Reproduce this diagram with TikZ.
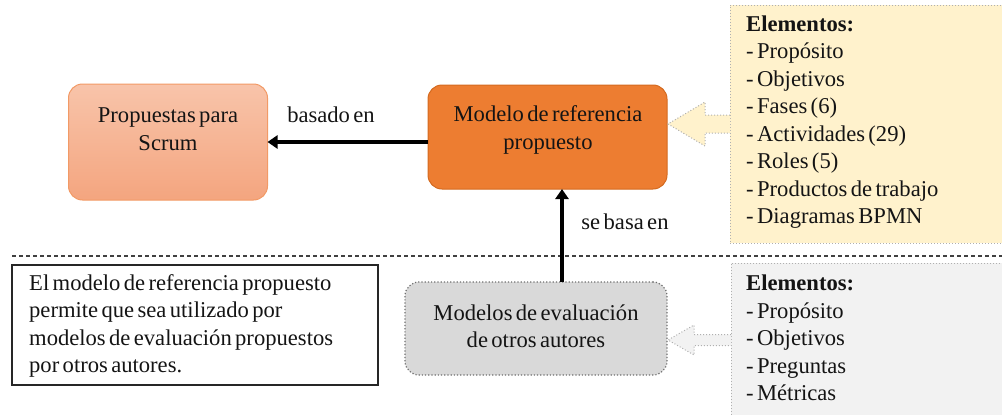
\documentclass[tikz,border=0pt]{standalone}
\usepackage{fontspec}
\setmainfont[WordSpace=0.6]{Liberation Serif}
\usetikzlibrary{arrows.meta}
\definecolor{salmonA}{HTML}{F8C4AA}
\definecolor{salmonB}{HTML}{F4A57F}
\definecolor{salmonE}{HTML}{F29A66}
\definecolor{orangeF}{HTML}{ED7D31}
\definecolor{orangeE}{HTML}{D46A1F}
\definecolor{yellowF}{HTML}{FFF2CC}
\definecolor{greyF}{HTML}{D9D9D9}
\definecolor{greyE}{HTML}{6E6E6E}
\definecolor{lightF}{HTML}{F2F2F2}
\definecolor{lightE}{HTML}{B0B0B0}
\begin{document}
\begin{tikzpicture}[x=1pt,y=-1pt,
  txt/.style={font=\fontsize{22.6}{27.5}\selectfont, inner sep=0pt, text=black!92},
  boxbase/.style={rectangle, inner sep=0pt, outer sep=0pt},
  conn/.style={line width=3.5pt, -{Triangle[length=10pt,width=13pt]}},
  blockarrow/.style={line width=1pt, dotted},
]
\useasboundingbox (0,0) rectangle (1002,415);
% boxes
\node[boxbase, rounded corners=14pt, minimum width=199pt, minimum height=116pt,
      top color=salmonA, bottom color=salmonB, draw=salmonE, line width=1pt] (prop) at (168,142) {};
\node[txt, align=center] (proptxt) at (168,129) {Propuestas para\\Scrum};
\node[boxbase, rounded corners=14pt, minimum width=239pt, minimum height=104pt,
      fill=orangeF, draw=orangeE, line width=1pt] (model) at (547.5,137) {};
\node[txt, align=center] (modeltxt) at (548,130) {Modelo de referencia\\propuesto};
\node[boxbase, rounded corners=14pt, minimum width=262pt, minimum height=93pt,
      fill=greyF, draw=greyE, dotted, line width=1.2pt] (eval) at (536,328.5) {};
\node[txt, align=center] (evaltxt) at (536,326) {Modelos de evaluación\\de otros autores};
% element boxes
\node[boxbase, anchor=north west, minimum width=300pt, minimum height=238pt,
      fill=yellowF, draw=lightE, dotted, line width=1pt] (elemA) at (730,5) {};
\node[txt, align=left, anchor=west] (elemAtxt) at (746,122) {\textbf{Elementos:}\\- Propósito\\- Objetivos\\- Fases (6)\\- Actividades (29)\\- Roles (5)\\- Productos de trabajo\\- Diagramas BPMN};
\node[boxbase, anchor=north west, minimum width=300pt, minimum height=170pt,
      fill=lightF, draw=lightE, dotted, line width=1pt] (elemB) at (731,263) {};
\node[txt, align=left, anchor=west] (elemBtxt) at (746,338) {\textbf{Elementos:}\\- Propósito\\- Objetivos\\- Preguntas\\- Métricas};
% note
\node[boxbase, anchor=north west, minimum width=366pt, minimum height=120pt,
      draw=black!85, line width=1.6pt] (note) at (12,265) {};
\node[txt, align=left, anchor=west] (notetxt) at (29,326) {El modelo de referencia propuesto\\permite que sea utilizado por\\modelos de evaluación propuestos\\por otros autores.};
% separator
\coordinate (sepL) at (12,256);
\coordinate (sepR) at (1002,256);
\draw[black!75, line width=1.2pt, dash pattern=on 4pt off 3pt] (sepL) -- (sepR);
% block arrows
\draw[blockarrow, fill=yellowF, draw=lightE] (elemA.west |- 0,115) -- (705,115) -- (705,102) -- (668,124) -- (705,146) -- (705,133) -- (elemA.west |- 0,133);
\draw[blockarrow, fill=lightF, draw=lightE] (elemB.west |- 0,334.5) -- (694,334.5) -- (694,325) -- (668,340) -- (694,355) -- (694,345.5) -- (elemB.west |- 0,345.5);
% connectors
\draw[conn] (model.west |- prop.east) -- (prop.east);
\node[txt] (lbl1) at (331,115) {basado en};
\coordinate (vx) at (562,0);
\draw[conn] (eval.north -| vx) -- (model.south -| vx);
\node[txt] (lbl2) at (625,222) {se basa en};
\end{tikzpicture}
\end{document}
